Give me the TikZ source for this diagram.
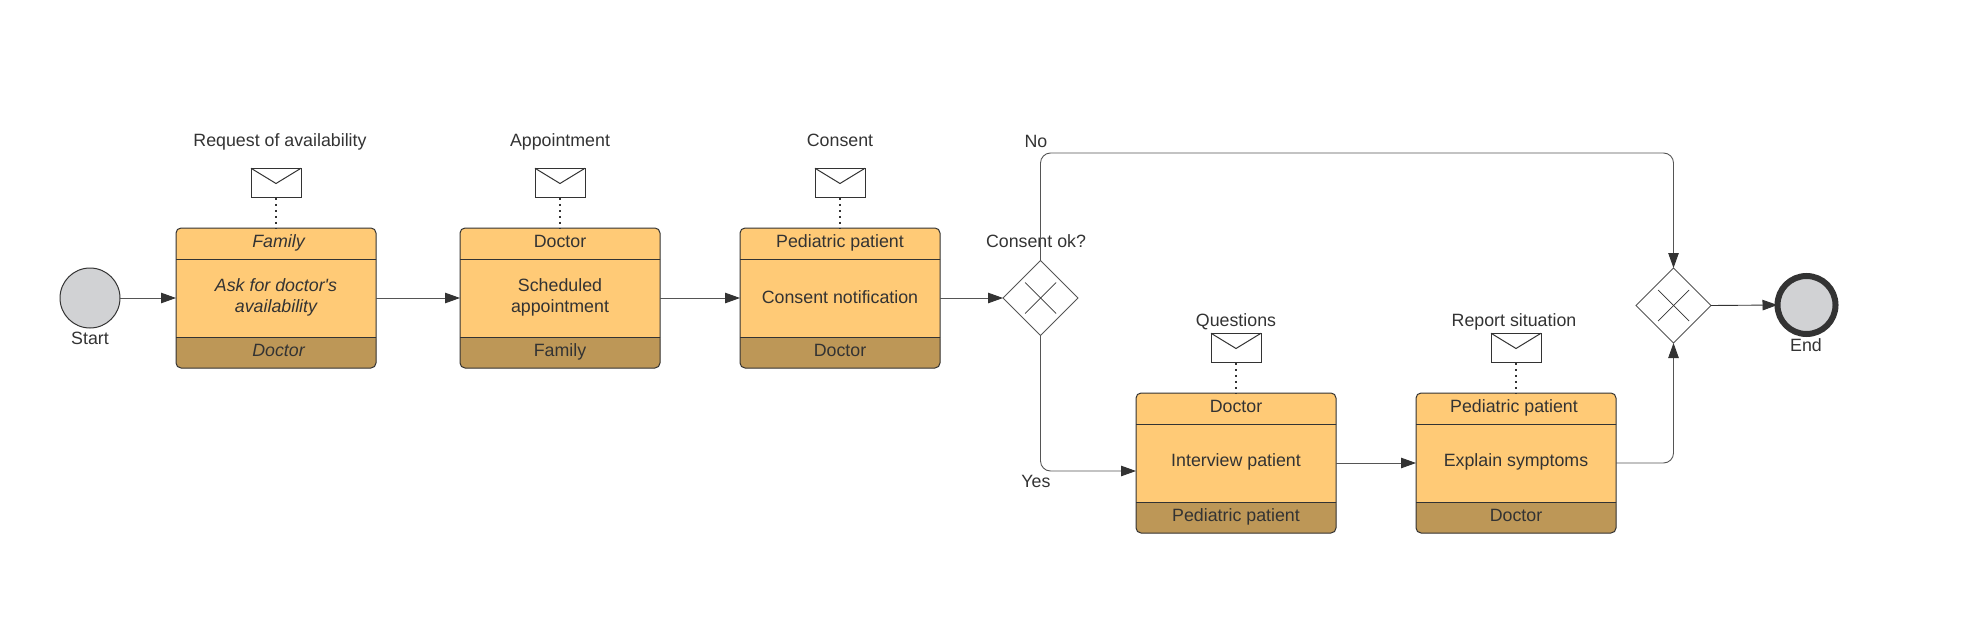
\documentclass[tikz,border=0pt]{standalone}
\usepackage{fontspec}
\setmainfont{Liberation Sans}
\usetikzlibrary{arrows.meta,shapes.geometric,calc}
\definecolor{ink}{HTML}{333333}
\definecolor{wire}{HTML}{555555}
\definecolor{bodyfill}{HTML}{FFCA76}
\definecolor{footfill}{HTML}{BD9757}
\definecolor{eventfill}{HTML}{D1D2D4}
\tikzset{
  lbl/.style={inner sep=0pt,outer sep=0pt,text=ink,font=\fontsize{17.8}{21}\selectfont,align=center},
  taskbox/.style={draw=ink,line width=1pt,fill=bodyfill,rounded corners=5pt,minimum width=200pt,minimum height=140pt,inner sep=0pt,outer sep=0pt},
  envel/.style={draw=ink,line width=1pt,fill=white,minimum width=50pt,minimum height=29.5pt,inner sep=0pt,outer sep=0pt},
  gate/.style={diamond,draw=wire,line width=1pt,fill=white,minimum width=75pt,minimum height=75pt,inner sep=0pt,outer sep=0pt},
  flow/.style={draw=wire,line width=0.9pt,rounded corners=10pt,-{Triangle[length=15pt,width=10.5pt,color=ink]}},
  assoc/.style={draw=ink,line width=1.2pt,dash pattern=on 2pt off 4pt},
  bar/.style={draw=ink,line width=0.7pt},
  teh/.style={xshift=-2pt},
}
% name, centre x, centre y, header, body, footer, font switch
\newcommand{\tasknode}[7]{%
  \node[taskbox,path picture={
      \fill[footfill] (-102,39) rectangle (102,72);
      \draw[ink,line width=1pt] (-102,39) -- (102,39);
      \draw[ink,line width=1pt] (-102,-39) -- (102,-39);
    }] (#1) at (#2,#3) {};
  \node[lbl,anchor=base,#1h/.try] (#1h) at ($(#1.north)+(0,19)$) {#7 #4};
  \node[lbl,font=\fontsize{17.8}{21}\selectfont #7] (#1b) at ($(#1.center)+(0,-1)$) {#5};
  \node[lbl,anchor=base] (#1f) at ($(#1.north)+(0,128.5)$) {#7 #6};
  \node[envel] (#1e) at ($(#1.north)+(0,-45)$) {};
  \draw[ink,line width=1pt] (#1e.north west) -- ($(#1e.center)+(0,0.5)$) -- (#1e.north east);
  \draw[assoc] (#1e.south) -- (#1.north);
}
\newcommand{\gatecross}[1]{%
  \draw[bar] ($(#1.center)+(-15.5,-15.5)$) -- ($(#1.center)+(15.5,15.5)$);
  \draw[bar] ($(#1.center)+(-15.5,15.5)$) -- ($(#1.center)+(15.5,-15.5)$);
}
\begin{document}
\begin{tikzpicture}[x=1pt,y=-1pt]
\useasboundingbox (0,0) rectangle (1973,626);
\tasknode{ta}{276}{298}{Family}{Ask for doctor\textquotesingle s\\availability}{Doctor}{\itshape}
\tasknode{tb}{560}{298}{Doctor}{Scheduled\\appointment}{Family}{}
\tasknode{tc}{840}{298}{Pediatric patient}{Consent notification}{Doctor}{}
\tasknode{td}{1236}{463}{Doctor}{Interview patient}{Pediatric patient}{}
\tasknode{te}{1516}{463}{Pediatric patient}{Explain symptoms}{Doctor}{}

\node[lbl,anchor=base,xshift=4pt] (ma) at ($(tae.north)+(0,-22)$) {Request of availability};
\node[lbl,anchor=base] (mb) at ($(tbe.north)+(0,-22)$) {Appointment};
\node[lbl,anchor=base] (mc) at ($(tce.north)+(0,-22)$) {Consent};
\node[lbl,anchor=base] (md) at ($(tde.north)+(0,-7)$) {Questions};
\node[lbl,anchor=base,xshift=-2pt] (me) at ($(tee.north)+(0,-7)$) {Report situation};

\node[circle,draw=ink,line width=1pt,fill=eventfill,minimum size=60pt,inner sep=0pt,outer sep=0pt] (start) at (90,298) {};
\node[lbl,anchor=base] (startl) at (90,344) {Start};
\node[circle,draw=ink,line width=6pt,fill=eventfill,minimum size=58pt,inner sep=0pt,outer sep=0pt] (end) at (1806.5,305) {};
\node[lbl,anchor=base] (endl) at (1806,351) {End};

\node[gate] (da) at (1040.5,298) {};
\node[gate] (db) at (1673.5,305.5) {};
\gatecross{da}
\gatecross{db}
\node[lbl,anchor=base] (cq) at (1036,247) {Consent ok?};
\node[lbl,anchor=base] (no) at (1036,147) {No};
\node[lbl,anchor=base] (yes) at (1036,487) {Yes};

\coordinate (topturn) at (1040.5,153);
\coordinate (yesin) at (1136,471);

\draw[flow] (start.east) -- (ta.west);
\draw[flow] (ta.east) -- (tb.west);
\draw[flow] (tb.east) -- (tc.west);
\draw[flow] (tc.east) -- (da.west);
\draw[flow] (da.north) -- (topturn) -| (db.north);
\draw[flow] (da.south) |- (yesin);
\draw[flow] (td.east) -- (te.west);
\draw[flow] (te.east) -| (db.south);
\draw[flow,draw=ink] (db.east) -- (end.west);
\end{tikzpicture}
\end{document}
